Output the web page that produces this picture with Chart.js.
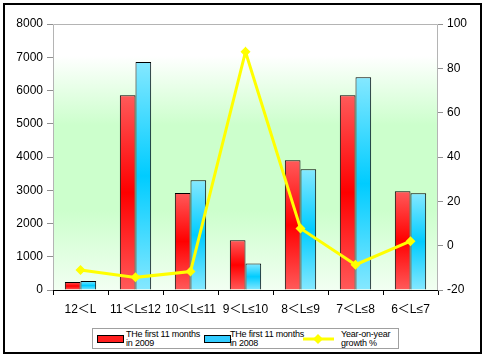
<!DOCTYPE html>
<html><head><meta charset="utf-8">
<script src="https://cdn.jsdelivr.net/npm/chart.js@4/dist/chart.umd.min.js"></script>
<style>
html,body{margin:0;padding:0;background:#fff;}
#wrap{position:relative;width:484px;height:355px;}
#frame{position:absolute;left:3px;top:3px;width:475px;height:347px;border:2px solid #000;pointer-events:none;}
canvas{position:absolute;left:0;top:0;}
#legend{position:absolute;left:92px;top:328px;width:305px;height:19px;border:1px solid #a0a0a0;background:#fff;font-family:"Liberation Sans",Arial,sans-serif;font-size:9px;letter-spacing:-0.2px;line-height:9px;color:#000;}
.sw{position:absolute;top:6px;width:25px;height:6px;border:1px solid #000;}
.tx{position:absolute;top:1px;white-space:nowrap;}
</style></head>
<body><div id="wrap"><canvas id="c" width="484" height="355"></canvas><div id="frame"></div>
<div id="legend">
<div class="sw" style="left:4px;background:#ff2020"></div><div class="tx" style="left:33px">THe first 11 months<br>in 2009</div>
<div class="sw" style="left:111px;background:#33ccff"></div><div class="tx" style="left:137px">THe first 11 months<br>in 2008</div>
<svg style="position:absolute;left:209px;top:4px" width="34" height="12"><line x1="1" y1="6" x2="32" y2="6" stroke="#ffff00" stroke-width="3"/><polygon points="16,1 21,6 16,11 11,6" fill="#ffff00"/></svg>
<div class="tx" style="left:248px">Year-on-year<br>growth %</div>
</div>
</div>
<script>
const categories = ["12＜L","11＜L≤12","10＜L≤11","9＜L≤10","8＜L≤9","7＜L≤8","6＜L≤7"];
const sales2009 = [240,5860,2920,1500,3900,5860,2970];
const sales2008 = [270,6860,3300,800,3630,6400,2910];
const growth = [-11,-14.3,-11.7,87.5,7.8,-8.6,2.0];
const leftTicks = [0,1000,2000,3000,4000,5000,6000,7000,8000];
const rightTicks = [-20,0,20,40,60,80,100];

function barGrad(ctx, edge, center){
  const chart = ctx.chart;
  if(!chart.chartArea || ctx.raw === undefined) return center;
  const ys = chart.scales.y;
  const top = ys.getPixelForValue(ctx.raw), bot = ys.getPixelForValue(0);
  if(!isFinite(top) || Math.abs(top-bot) < 1) return center;
  const g = chart.ctx.createLinearGradient(0, top, 0, bot);
  g.addColorStop(0, edge); g.addColorStop(0.5, center); g.addColorStop(1, edge);
  return g;
}

const bgPlugin = {
  id:'bg',
  beforeDraw(chart){
    const {ctx, chartArea:a} = chart;
    const g = ctx.createLinearGradient(0, a.top, 0, a.bottom);
    g.addColorStop(0, '#ffffff'); g.addColorStop(0.12, '#ffffff');
    g.addColorStop(0.38, '#ccffcc'); g.addColorStop(0.7, '#ccffcc'); g.addColorStop(1, '#f2fff2');
    ctx.save(); ctx.fillStyle = g; ctx.fillRect(a.left, a.top, a.right-a.left, a.bottom-a.top);
    ctx.strokeStyle = '#b4b4b4'; ctx.lineWidth = 1;
    ctx.beginPath(); ctx.moveTo(a.left+0.5, a.bottom); ctx.lineTo(a.left+0.5, a.top+0.5); ctx.lineTo(a.right-0.5, a.top+0.5); ctx.lineTo(a.right-0.5, a.bottom); ctx.stroke();
    ctx.restore();
  },
  afterDatasetsDraw(chart){
    const {ctx, chartArea:a} = chart;
    ctx.save(); ctx.strokeStyle = '#000'; ctx.lineWidth = 1;
    ctx.beginPath(); ctx.moveTo(a.left, a.bottom+0.5); ctx.lineTo(a.right, a.bottom+0.5); ctx.stroke(); ctx.restore();
  }
};

new Chart(document.getElementById('c'), {
  data:{
    labels: categories,
    datasets:[
      {type:'line', label:'Year-on-year growth %', data:growth, yAxisID:'y1', borderColor:'#ffff00', backgroundColor:'#ffff00', borderWidth:3, pointStyle:'rectRot', pointRadius:5, pointBorderWidth:0, tension:0, order:0},
      {type:'bar', label:'THe first 11 months in 2009', data:sales2009, yAxisID:'y', backgroundColor:c=>barGrad(c,'#ff5a5a','#ff0000'), borderColor:'#000', borderWidth:1, barPercentage:1, categoryPercentage:0.57, order:1},
      {type:'bar', label:'THe first 11 months in 2008', data:sales2008, yAxisID:'y', backgroundColor:c=>barGrad(c,'#85e8ff','#00ccff'), borderColor:'#000', borderWidth:1, barPercentage:1, categoryPercentage:0.57, order:1}
    ]
  },
  options:{
    responsive:false, animation:false, devicePixelRatio:1,
    layout:{padding:{left:0,right:0,top:24,bottom:0}},
    plugins:{legend:{display:false}, tooltip:{enabled:false}},
    scales:{
      x:{offset:true, grid:{display:true, offset:true, drawOnChartArea:false, drawTicks:true, tickLength:5, color:'#000'}, border:{display:false},
         ticks:{color:'#000', font:{family:'"Liberation Sans","Noto Sans CJK SC",sans-serif', size:12}, padding:7, maxRotation:0, autoSkip:false},
         afterFit(s){s.height=65;}},
      y:{position:'left', min:0, max:8000, afterBuildTicks(s){s.ticks = leftTicks.map(v=>({value:v}));},
         grid:{drawOnChartArea:false, drawTicks:true, tickLength:6, color:'#909090'}, border:{display:false},
         ticks:{color:'#000', font:{family:'"Liberation Sans",Arial,sans-serif', size:12}, padding:4, callback:v=>String(v)},
         afterFit(s){s.width=53;}},
      y1:{position:'right', min:-20, max:100, afterBuildTicks(s){s.ticks = rightTicks.map(v=>({value:v}));},
         grid:{drawOnChartArea:false, drawTicks:true, tickLength:5, color:'#909090'}, border:{display:false},
         ticks:{color:'#000', font:{family:'"Liberation Sans",Arial,sans-serif', size:12}, padding:4, callback:v=>String(v)},
         afterFit(s){s.width=46;}}
    }
  },
  plugins:[bgPlugin]
});
</script></body></html>
